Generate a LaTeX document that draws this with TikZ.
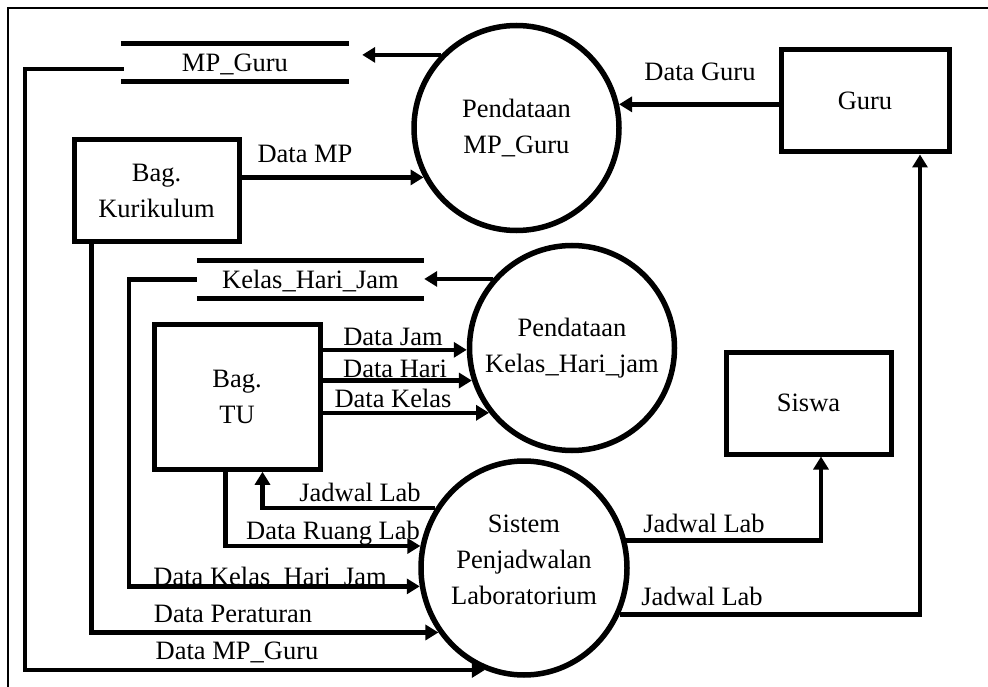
\documentclass[tikz,border=0pt]{standalone}
\usepackage{fontspec}
\setmainfont{Liberation Serif}
\usetikzlibrary{arrows.meta,shapes.geometric}

\begin{document}
\begin{tikzpicture}[x=1pt,y=-1pt,
  every node/.style={font=\fontsize{26.5}{36}\selectfont, inner sep=0pt},
  entity/.style={draw, line width=5pt, rectangle, align=center},
  process/.style={draw, line width=5.5pt, circle, minimum size=205pt, align=center},
  store/.style={minimum height=37pt, text height=18pt, text depth=0pt},
  storeline/.style={line width=5pt},
  flow/.style={line width=4.6pt, -{Triangle[length=13pt,width=15pt]}},
  lbl/.style={text height=18pt, text depth=0pt}
]
% page and frame
\fill[white] (0,0) rectangle (988,687);
\useasboundingbox (0,0) rectangle (988,687);
\draw[line width=2pt] (8,687) -- (8,8) -- (988,8);

% processes
\node[process] (mp) at (516.5,128) {Pendataan\\MP\_Guru};
\node[process] (kc) at (572,348) {Pendataan\\Kelas\_Hari\_jam};
\node[draw, line width=5.5pt, ellipse, minimum width=206pt, minimum height=214pt] (sc) at (524,568) {};
\node[align=center] (sctext) at (524,560) {Sistem\\Penjadwalan\\Laboratorium};

% external entities
\node[entity, minimum width=168pt, minimum height=102pt] (guru) at (865,101) {Guru};
\node[entity, minimum width=165pt, minimum height=102pt] (kur) at (156.5,191) {Bag.\\Kurikulum};
\node[entity, minimum width=166pt, minimum height=144.5pt] (tu) at (237,397) {Bag.\\TU};
\node[entity, minimum width=165pt, minimum height=102pt] (siswa) at (808.5,403) {Siswa};

% data stores
\node[store, minimum width=228pt] (mps) at (235,62.5) {MP\_Guru};
\draw[storeline] (mps.north west) -- (mps.north east) (mps.south west) -- (mps.south east);
\node[store, minimum width=227pt] (ks) at (310.5,279.5) {Kelas\_Hari\_Jam};
\draw[storeline] (ks.north west) -- (ks.north east) (ks.south west) -- (ks.south east);

% flow labels
\node[lbl] (lguru) at (700,72) {Data Guru};
\node[lbl] (lmp) at (305,154) {Data MP};
\node[lbl] (ljam) at (393,336) {Data Jam};
\node[lbl] (lhari) at (395,368) {Data Hari};
\node[lbl] (lkelas) at (393,398) {Data Kelas};
\node[lbl] (ljtu) at (360,492) {Jadwal Lab};
\node[lbl] (lruang) at (333,530) {Data Ruang Lab};
\node[lbl] (lkhj) at (270,576) {Data Kelas\_Hari\_Jam};
\node[lbl] (lper) at (233,613) {Data Peraturan};
\node[lbl] (lmpg) at (237,650) {Data MP\_Guru};
\node[lbl] (ljsw) at (704,523) {Jadwal Lab};
\node[lbl] (ljgu) at (702,596) {Jadwal Lab};

% helper points
\coordinate (xa) at (25,0);
\coordinate (xc) at (129,0);
\coordinate (mpsTip) at ([xshift=13pt]mps.east);
\coordinate (mpsOut) at ([xshift=3pt,yshift=-6.5pt]mps.west);
\coordinate (kurOut) at ([xshift=20pt]kur.south west);
\coordinate (tuOut) at ([xshift=74pt]tu.south west);
\coordinate (tuIn) at ([xshift=111pt]tu.south west);
\coordinate (swIn) at ([xshift=12.5pt]siswa.south);
\coordinate (guIn) at ([xshift=55pt]guru.south);

% data flows
\draw[flow] (mp.136.9) -- (mpsTip |- mp.136.9);
\draw[flow] (kur.east |- mp.208.6) -- (mp.208.6);
\draw[flow] (guru.west |- mp.13.5) -- (mp.13.5);
\draw[flow] (kc.139.9) -- (ks.east |- kc.139.9);
\draw[flow] (tu.east |- kc.181.1) -- (kc.181.1);
\draw[flow] (tu.east |- kc.198.8) -- (kc.198.8);
\draw[flow] (tu.east |- kc.218.6) -- (kc.218.6);
\draw[flow] (sc.146.8) -| (tuIn);
\draw[flow] (tuOut) |- (sc.168.8);
\draw[flow] (ks.west) -| (xc |- sc.190.6) -- (sc.190.6);
\draw[flow] (kurOut) |- (sc.217.1);
\draw[flow] (mpsOut) -| (xa |- sc.249.8) -- (sc.249.8);
\draw[flow] (sc.15.7) -| (swIn);
\draw[flow] (sc.-26.9) -| (guIn);
\end{tikzpicture}
\end{document}
